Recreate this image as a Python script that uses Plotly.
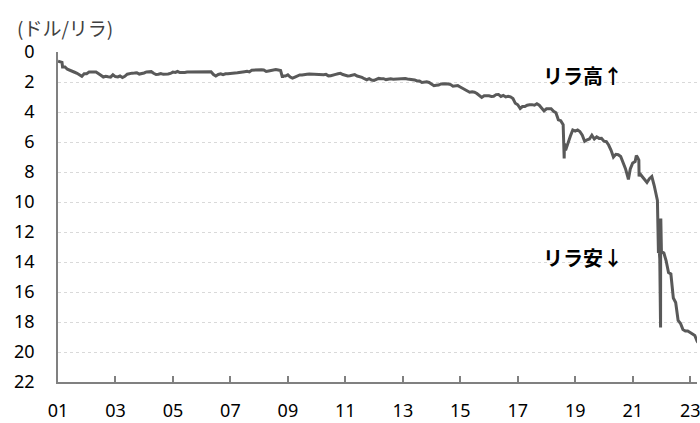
import pandas as pd
import plotly.graph_objects as go

# Month-end USD/TRY rate (lira per dollar), Jan 2001 .. Apr 2023
month_end_values = [
    # 2001
    0.67, 1.00, 1.00, 1.15, 1.20, 1.30, 1.35, 1.42, 1.55, 1.62, 1.45, 1.45,
    # 2002
    1.34, 1.36, 1.34, 1.33, 1.42, 1.55, 1.67, 1.62, 1.65, 1.67, 1.52, 1.64,
    # 2003
    1.66, 1.60, 1.70, 1.62, 1.48, 1.42, 1.41, 1.40, 1.38, 1.47, 1.45, 1.40,
    # 2004
    1.33, 1.32, 1.31, 1.42, 1.50, 1.48, 1.44, 1.49, 1.50, 1.47, 1.43, 1.34,
    # 2005
    1.36, 1.30, 1.37, 1.38, 1.37, 1.34, 1.34, 1.34, 1.35, 1.36, 1.37, 1.35,
    # 2006
    1.33, 1.32, 1.34, 1.32, 1.50, 1.60, 1.50, 1.45, 1.51, 1.45, 1.45, 1.42,
    # 2007
    1.42, 1.40, 1.39, 1.35, 1.33, 1.31, 1.28, 1.33, 1.21, 1.19, 1.20, 1.17,
    # 2008
    1.18, 1.20, 1.30, 1.27, 1.23, 1.23, 1.17, 1.20, 1.24, 1.60, 1.60, 1.52,
    # 2009
    1.67, 1.74, 1.67, 1.60, 1.53, 1.54, 1.49, 1.49, 1.47, 1.48, 1.52, 1.50,
    # 2010
    1.50, 1.55, 1.52, 1.49, 1.59, 1.58, 1.51, 1.49, 1.45, 1.42, 1.50, 1.55,
    # 2011
    1.60, 1.58, 1.55, 1.51, 1.60, 1.62, 1.69, 1.78, 1.85, 1.78, 1.87, 1.89,
    # 2012
    1.80, 1.76, 1.78, 1.78, 1.84, 1.81, 1.79, 1.81, 1.80, 1.79, 1.79, 1.78,
    # 2013
    1.77, 1.80, 1.81, 1.80, 1.86, 1.93, 1.93, 2.03, 2.02, 1.98, 2.03, 2.15,
    # 2014
    2.25, 2.22, 2.20, 2.13, 2.10, 2.12, 2.14, 2.17, 2.28, 2.24, 2.24, 2.33,
    # 2015
    2.43, 2.50, 2.60, 2.68, 2.65, 2.68, 2.77, 2.92, 3.03, 2.92, 2.91, 2.92,
    # 2016
    2.96, 2.95, 2.84, 2.83, 2.96, 2.89, 3.00, 2.96, 2.99, 3.10, 3.42, 3.52,
    # 2017
    3.77, 3.64, 3.64, 3.55, 3.52, 3.51, 3.55, 3.45, 3.55, 3.78, 3.93, 3.79,
    # 2018
    3.76, 3.78, 3.95, 4.05, 4.52, 4.58, 4.84, 6.55, 6.05, 5.60, 5.20, 5.28,
    # 2019
    5.20, 5.30, 5.55, 5.95, 5.85, 5.80, 5.55, 5.80, 5.66, 5.76, 5.75, 5.95,
    # 2020
    5.98, 6.20, 6.55, 7.00, 6.82, 6.85, 6.97, 7.36, 7.78, 8.35, 7.80, 7.40,
    # 2021
    7.30, 7.00, 8.10, 8.30, 8.50, 8.70, 8.45, 8.30, 8.90, 9.60, 13.00, 13.30,
    # 2022
    13.40, 13.90, 14.70, 14.80, 16.40, 16.70, 17.90, 18.10, 18.50, 18.60, 18.60, 18.70,
    # 2023
    18.80, 18.90, 19.30, 19.50,
]

# Intra-month points (spikes and sharp moves)
extra_dates = [
    "2001-01-02", "2001-02-21",
    "2008-10-24",
    "2018-08-10", "2018-08-13", "2018-08-16",
    "2020-11-06",
    "2021-02-15", "2021-03-19", "2021-03-22",
    "2021-11-10", "2021-11-23", "2021-12-10", "2021-12-17",
    "2021-12-20", "2021-12-21", "2021-12-23",
]
extra_values = [
    0.62, 0.69,
    1.70,
    6.40, 7.10, 6.10,
    8.50,
    6.90, 7.20, 8.30,
    9.90, 13.40, 13.80, 16.40,
    18.36, 13.00, 11.10,
]

# Axis ticks
tick_years = list(range(2001, 2024, 2))
tick_labels = [f"{y % 100:02d}" for y in tick_years]
y_ticks = list(range(0, 23, 2))

month_dates = pd.date_range("2001-01-31", periods=len(month_end_values), freq="ME")
series = pd.concat([
    pd.Series(month_end_values, index=month_dates),
    pd.Series(extra_values, index=pd.to_datetime(extra_dates)),
]).sort_index()

fig = go.Figure()
fig.add_trace(go.Scatter(
    x=series.index, y=series.values, mode="lines",
    line=dict(color="#595959", width=3),
    hoverinfo="skip",
))

tick_font = dict(family="Noto Sans, sans-serif", size=18, color="#000000")

fig.update_layout(
    width=700, height=423,
    margin=dict(l=58, r=0, t=52, b=41),
    plot_bgcolor="white", paper_bgcolor="white",
    showlegend=False,
    xaxis=dict(
        type="date",
        range=["2001-01-01", "2023-03-28"],
        tickvals=[f"{y}-01-01" for y in tick_years],
        ticktext=tick_labels,
        ticks="inside", ticklen=6, tickwidth=1.5, tickcolor="#808080",
        showline=True, linecolor="#808080", linewidth=1.5,
        showgrid=False, zeroline=False,
        tickfont=tick_font,
        ticklabelstandoff=12,
        ticklabeloverflow="allow",
    ),
    yaxis=dict(
        range=[22, 0],
        tickvals=y_ticks,
        ticks="",
        showline=True, linecolor="#808080", linewidth=1.5,
        showgrid=True, gridcolor="#d9d9d9", griddash="3px,3px", gridwidth=1,
        zeroline=False,
        tickfont=tick_font,
        ticklabelstandoff=18,
    ),
    annotations=[
        dict(text="(ドル/リラ)", xref="paper", yref="paper",
             x=-0.068, y=1.073, xanchor="left", yanchor="middle",
             showarrow=False,
             font=dict(family="Noto Sans CJK JP", size=19, color="#404040")),
        dict(text="<b>リラ高↑</b>", xref="paper", yref="paper",
             x=0.822, y=0.930, xanchor="center", yanchor="middle",
             showarrow=False,
             font=dict(family="Noto Sans CJK JP", size=20, color="#000000")),
        dict(text="<b>リラ安↓</b>", xref="paper", yref="paper",
             x=0.822, y=0.376, xanchor="center", yanchor="middle",
             showarrow=False,
             font=dict(family="Noto Sans CJK JP", size=20, color="#000000")),
    ],
)

fig.write_html("out.html", config={"displayModeBar": False},
               post_script="document.body.style.margin='0';")
